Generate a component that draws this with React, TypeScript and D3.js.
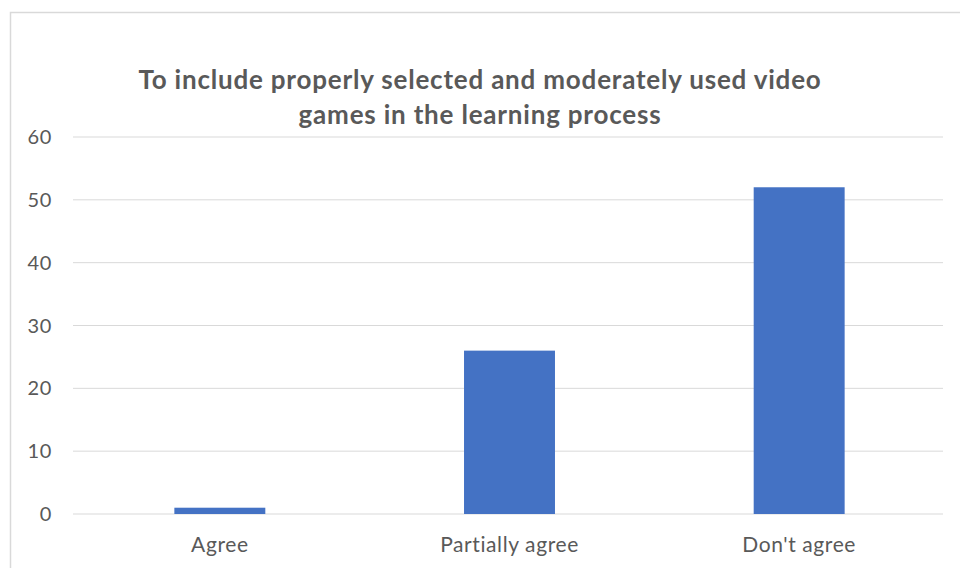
import React from "react";
import * as d3 from "d3";

const categories = ["Agree", "Partially agree", "Don't agree"];
const values = [1, 26, 52];
const yTicks = [0, 10, 20, 30, 40, 50, 60];
const titleLines = [
  "To include properly selected and moderately used video",
  "games in the learning process",
];

export default function App() {
  const W = 960, H = 568;
  const x = d3.scaleBand<string>().domain(categories).range([75, 944]).paddingInner(0.686).paddingOuter(0.343);
  const y = d3.scaleLinear().domain([0, 60]).range([514, 137]);
  const font = "Lato, 'Open Sans', sans-serif";
  return (
    <svg width={W} height={H} style={{ position: "absolute", left: 0, top: 0 }}>
      <rect x={0} y={0} width={W} height={H} fill="#fff" />
      <rect x={10.5} y={12.5} width={W + 10} height={H + 10} fill="#fff" stroke="#d9d9d9" strokeWidth={1.5} />
      {titleLines.map((t, i) => (
        <text key={i} x={480} y={89 + i * 35} textAnchor="middle" fontFamily={font} fontWeight="bold" fontSize={26} letterSpacing={0.8} fill="#595959">{t}</text>
      ))}
      {yTicks.map((t) => (
        <g key={t}>
          <line x1={73} x2={943} y1={y(t)} y2={y(t)} stroke="#d9d9d9" strokeWidth={1} />
          <text x={52} y={y(t) + 7} textAnchor="end" fontFamily={font} fontSize={20} letterSpacing={0.6} fill="#595959">{t}</text>
        </g>
      ))}
      {categories.map((c, i) => (
        <g key={c}>
          <rect x={x(c)} y={y(values[i])} width={x.bandwidth()} height={y(0) - y(values[i])} fill="#4472c4" />
          <text x={(x(c) as number) + x.bandwidth() / 2} y={552} textAnchor="middle" fontFamily={font} fontSize={21} letterSpacing={0.6} fill="#595959">{c}</text>
        </g>
      ))}
    </svg>
  );
}
